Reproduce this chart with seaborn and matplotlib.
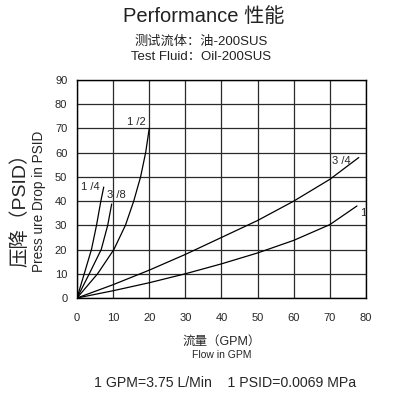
import matplotlib
matplotlib.use("Agg")
import matplotlib.pyplot as plt
import seaborn as sns
import pandas as pd

sns.set_style("white")
plt.rcParams['font.family'] = ['Liberation Sans', 'Noto Sans CJK SC', 'DejaVu Sans']

# Curves (flow GPM, pressure drop PSID)
q14_x = [0, 2.0, 4.0, 5.4, 6.6, 7.4]
q14_y = [0, 10, 20, 30, 40, 45.8]
q38_x = [0, 3.4, 6.7, 8.5, 9.6]
q38_y = [0, 10, 20, 30, 38.8]
q12_x = [0, 5.7, 10.2, 13.4, 15.7, 17.6, 19.0, 20.0]
q12_y = [0, 10, 20, 30, 40, 50, 60, 70]
q34_x = [0, 10, 20, 30, 40, 50, 60, 70, 78]
q34_y = [0, 5.5, 11.5, 18, 25, 32, 40, 49, 58]
q1_x = [0, 10, 20, 30, 40, 50, 60, 70, 77.5]
q1_y = [0, 3, 6.3, 10, 14.1, 18.6, 23.8, 30.3, 38]

sizes = ["1 /4", "3 /8", "1 /2", "3 /4", "1"]
xticks = [0, 10, 20, 30, 40, 50, 60, 70, 80]
yticks = [0, 10, 20, 30, 40, 50, 60, 70, 80, 90]

series = {"1 /4": (q14_x, q14_y), "3 /8": (q38_x, q38_y), "1 /2": (q12_x, q12_y),
          "3 /4": (q34_x, q34_y), "1": (q1_x, q1_y)}
rows = []
for s in sizes:
    xs, ys = series[s]
    for i, (a, b) in enumerate(zip(xs, ys)):
        rows.append({"size": s, "order": i, "flow": a, "psid": b})
df = pd.DataFrame(rows)

fig = plt.figure(figsize=(4.04, 3.96), dpi=100)
ax = fig.add_axes([77/404, 1-298/396, (366-77)/404, (298-80)/396])

sns.lineplot(data=df, x="flow", y="psid", hue="size", units="size", estimator=None,
             sort=False, palette={s: "black" for s in sizes}, legend=False,
             linewidth=0.9, ax=ax)

ax.set_xlim(0, 80)
ax.set_ylim(0, 90)
ax.set_xticks(xticks)
ax.set_yticks(yticks)
ax.set_xticklabels([str(v) for v in xticks], fontsize=8)
ax.set_yticklabels([str(v) for v in yticks], fontsize=8)
ax.tick_params(axis='x', length=0, pad=11)
ax.tick_params(axis='y', length=0, pad=7)
ax.grid(True, color="#2a2a2a", linewidth=0.9)
ax.set_axisbelow(True)
for sp in ax.spines.values():
    sp.set_color("black")
    sp.set_linewidth(1.0)
ax.set_xlabel("")
ax.set_ylabel("")

# curve labels
ax.text(1.0, 46, "1 /4", fontsize=8, ha="left", va="center")
ax.text(8.2, 42.5, "3 /8", fontsize=8, ha="left", va="center")
ax.text(13.8, 72.5, "1 /2", fontsize=8, ha="left", va="center")
ax.text(70.5, 56.5, "3 /4", fontsize=8, ha="left", va="center")
ax.text(78.3, 35, "1", fontsize=8, ha="left", va="center")

# titles
fig.text(204/404, 1-17/396, "Performance 性能", fontsize=14.5, ha="center", va="center", color="#222222")
fig.text(201/404, 1-42/396, "测试流体：油-200SUS", fontsize=9.5, ha="center", va="center", color="#222222")
fig.text(201/404, 1-57/396, "Test Fluid：Oil-200SUS", fontsize=9.5, ha="center", va="center", color="#222222")

# y labels
fig.text(20.5/404, 1-205/396, "压降（PSID）", fontsize=14, rotation=90, ha="center", va="center")
fig.text(39/404, 1-201/396, "Press ure Drop in PSID", fontsize=9.8, rotation=90, ha="center", va="center")

# x labels
fig.text(222/404, 1-342/396, "流量（GPM）", fontsize=9, ha="center", va="center")
fig.text(222/404, 1-355/396, "Flow in GPM", fontsize=7.5, ha="center", va="center")

fig.text(225/404, 1-383/396, "1 GPM=3.75 L/Min    1 PSID=0.0069 MPa", fontsize=10.2, ha="center", va="center")

fig.savefig("out.png", dpi=100)
